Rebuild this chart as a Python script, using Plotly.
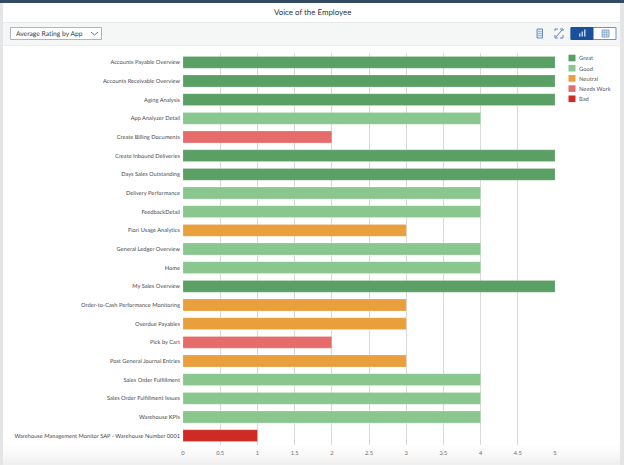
import plotly.graph_objects as go

apps = ["Accounts Payable Overview","Accounts Receivable Overview","Aging Analysis","App Analyzer Detail",
"Create Billing Documents","Create Inbound Deliveries","Days Sales Outstanding","Delivery Performance",
"FeedbackDetail","Fiori Usage Analytics","General Ledger Overview","Home","My Sales Overview",
"Order-to-Cash Performance Monitoring","Overdue Payables","Pick by Cart","Post General Journal Entries",
"Sales Order Fulfillment","Sales Order Fulfillment Issues","Warehouse KPIs",
"Warehouse Management Monitor SAP - Warehouse Number 0001"]
ratings = [5,5,5,4,2,5,5,4,4,3,4,4,5,3,3,2,3,4,4,4,1]
labels = ["Great","Good","Neutral","Needs Work","Bad"]
scores = [5,4,3,2,1]
colors = ["#5A9F63","#89C78F","#E89F3C","#E66C6C","#CC2C24"]
ticks = [0,0.5,1,1.5,2,2.5,3,3.5,4,4.5,5]

W,H = 624,465
L,R,T,B = 183,69,53,20
PW,PH = W-L-R, H-T-B
fx = lambda x:(x-L)/PW
fy = lambda y:1-(y-T)/PH
FONT = "Lato"

def rect(x0,y0,x1,y1,fill,line=None,lw=1):
    return dict(type="rect",xref="paper",yref="paper",x0=fx(x0),x1=fx(x1),y0=fy(y1),y1=fy(y0),
                fillcolor=fill,line=dict(color=line or fill,width=lw if line else 0),layer="below")
def seg(x0,y0,x1,y1,c,lw=1):
    return dict(type="line",xref="paper",yref="paper",x0=fx(x0),x1=fx(x1),y0=fy(y0),y1=fy(y1),
                line=dict(color=c,width=lw),layer="above")
def text(x,y,s,size,c,anchor="left"):
    return dict(xref="paper",yref="paper",x=fx(x),y=fy(y),text=s,showarrow=False,xanchor=anchor,yanchor="middle",
                font=dict(family=FONT,size=size,color=c),borderpad=0)

shapes = [
    rect(0,3,W,22,"#FFFFFF"),
    rect(0,22,W,45,"#F5F6F6"),
    rect(0,22,W,23,"#E6E7E7"),
    rect(0,45,W,46,"#ECEDED"),
    rect(0,0,W,3,"#344A62"),
]
# soft fade at the bottom of the page
for i,c in enumerate(["#FDFDFD","#FBFBFB","#F9F9F9","#F6F6F6","#F3F3F3","#F0F0F0"]):
    shapes.append(rect(0,445+i*3.4,W,H,c))
shapes += [rect(0,3,3,H,"#E4E5E6"), rect(620,3,W,H,"#E4E5E6")]
# dropdown
shapes.append(rect(10.5,27.5,101.5,39.5,"#FFFFFF","#9AA3AD",0.8))
shapes += [seg(91,32,94.5,35,"#4A78B5",1), seg(94.5,35,98,32,"#4A78B5",1)]
# toolbar icons
shapes.append({**rect(537,29,542.5,38,"#DCE6F3","#4A78B5",0.8),"layer":"above"})
for yy in (31.5,33.5,35.5):
    shapes.append(seg(537.5,yy,542,yy,"#7F9FC9",0.6))
for a,b,c,d in [(555,31,555,29),(555,29,558,29),(560,29,563,29),(563,29,563,31),(555,35,555,38),(555,38,558,38),(560,38,563,38),(563,38,563,35),(556,37,562,30)]:
    shapes.append(seg(a,b,c,d,"#4A78B5",0.9))
shapes.append(rect(571,27.5,616,39.5,"#FFFFFF","#6D93C6",1))
shapes.append(rect(571,27.5,593,39.5,"#19509B","#19509B",1))
for x,h in [(579,3),(581.5,5),(584,7)]:
    shapes.append({**rect(x,36.5-h,x+1.5,36.5,"#BFD3EC"),"layer":"above"})
shapes.append({**rect(602,30,609,37,"#DCE6F3","#6D93C6",0.8),"layer":"above"})
for xx in (604.3,606.6):
    shapes.append(seg(xx,30,xx,37,"#7F9FC9",0.6))
for yy in (32.3,34.6):
    shapes.append(seg(602,yy,609,yy,"#7F9FC9",0.6))
# legend swatches and labels
ann = [text(312,12,"Voice of the Employee",7.9,"#32363A","center"),
       text(14.5,33.5,"Average Rating by App",6.7,"#32363A")]
for i,(n,c) in enumerate(zip(labels,colors)):
    y = 58+i*10.2
    shapes.append(rect(568.5,y-3.3,575.5,y+3.3,c))
    ann.append(text(578,y,n,5.8,"#55595D"))

fig = go.Figure()
for n,s,c in zip(labels,scores,colors):
    idx = [i for i,r in enumerate(ratings) if r==s]
    fig.add_bar(name=n,orientation="h",y=[apps[i] for i in idx],x=[ratings[i] for i in idx],
                marker=dict(color=c,line=dict(color="rgba(255,255,255,0.35)",width=0.5)),showlegend=False)
fig.update_layout(
    width=W,height=H,margin=dict(l=L,r=R,t=T,b=B,pad=0),autosize=False,
    paper_bgcolor="#FFFFFF",plot_bgcolor="rgba(0,0,0,0)",barmode="overlay",bargap=0.37,showlegend=False,
    font=dict(family=FONT,size=5.7,color="#46494D"),shapes=shapes,annotations=ann,
    xaxis=dict(range=[0,5],tickvals=ticks,ticktext=[f"{t:g}" for t in ticks],showgrid=True,gridcolor="#D9D9D9",gridwidth=1.4,
               zeroline=False,showline=False,ticks="",tickfont=dict(size=5.7,color="#6E6E6E"),automargin=False,ticklabelstandoff=3),
    yaxis=dict(categoryorder="array",categoryarray=apps,autorange="reversed",showgrid=False,zeroline=False,
               showline=False,ticks="",tickfont=dict(size=5.7,color="#46494D"),automargin=False,ticklabelstandoff=2),
)
fig.write_html("out.html",config={"displayModeBar":False},
               post_script="document.body.style.margin='0';document.body.style.overflow='hidden';document.body.style.textRendering='geometricPrecision';")
